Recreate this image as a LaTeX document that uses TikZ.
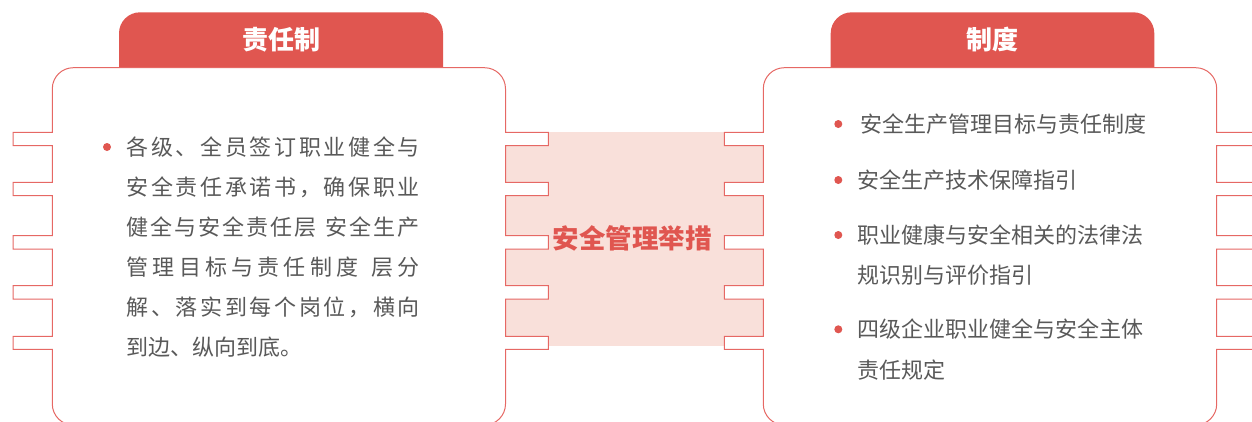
\documentclass[tikz,border=0pt]{standalone}
\usepackage{fontspec}
\setmainfont{Noto Sans CJK SC}
\definecolor{hdr}{RGB}{224,86,80}
\definecolor{edgered}{RGB}{230,104,100}
\definecolor{pinkfill}{RGB}{249,224,218}
\definecolor{txtgray}{RGB}{89,89,89}
\makeatletter
\def\spr#1{\spr@#1\@nil}
\def\spr@#1#2\@nil{#1\ifx\relax#2\relax\else\hfill\spr@#2\@nil\fi}
\makeatother
\newcommand\cardoutline[6]{% L, R, T, B, left tab x, right tab x
  \draw[cardedge] (#1,#3+21) arc[start angle=180,end angle=270,radius=21]
    -- (#2-21,#3) arc[start angle=270,end angle=360,radius=21]
    \foreach \a/\b in {132.3/145.7,182.3/195.7,235.7/249,285.7/299,336.3/349.3}
      { -- (#2,\a) -- (#6,\a) -- (#6,\b) -- (#2,\b) }
    -- (#2,#4-21) arc[start angle=0,end angle=90,radius=21]
    -- (#1+21,#4) arc[start angle=90,end angle=180,radius=21]
    \foreach \a/\b in {349.3/336.3,299/285.7,249/235.7,195.7/182.3,145.7/132.3}
      { -- (#1,\a) -- (#5,\a) -- (#5,\b) -- (#1,\b) }
    -- cycle;}
\begin{document}
\begin{tikzpicture}[x=1pt,y=-1pt,
  cardedge/.style={draw=edgered,fill=white,line width=1pt,line join=miter},
  bul/.style={circle,fill=hdr,inner sep=0pt,minimum size=8pt},
  bodytxt/.style={font=\fontsize{22pt}{26pt}\selectfont,text=txtgray,inner sep=0pt,anchor=base west},
  hdrtxt/.style={font=\bfseries\fontsize{26pt}{30pt}\selectfont,text=white,inner sep=0pt,anchor=base},
  midtxt/.style={font=\bfseries\fontsize{26.5pt}{30pt}\selectfont,text=hdr,inner sep=0pt,anchor=base}]
\useasboundingbox (0,0) rectangle (1252,421);
\clip (0,0) rectangle (1252,421);
% middle pink band
\fill[pinkfill] (505.5,132) rectangle (763.3,346);
% headers
\fill[hdr] (119,67.7) -- (119,33.3) arc[start angle=180,end angle=270,radius=21]
  -- (422,12.3) arc[start angle=270,end angle=360,radius=21] -- (443,67.7) -- cycle;
\fill[hdr] (830.7,67.7) -- (830.7,33.3) arc[start angle=180,end angle=270,radius=21]
  -- (1133.3,12.3) arc[start angle=270,end angle=360,radius=21] -- (1154.3,67.7) -- cycle;
% cards
\cardoutline{52.3}{505.5}{67.7}{425}{13.2}{548.3}
\cardoutline{763.3}{1216.7}{67.7}{425}{724.3}{1262}
% header texts
\node[hdrtxt] (h1) at (281,49.9) {责任制};
\node[hdrtxt] (h2) at (992.5,49.9) {制度};
% middle text
\node[midtxt] (mid) at (632.2,248.4) {安全管理举措};
% left card text
\node[bul] (lb) at (107,147) {};
\node[bodytxt] (l1) at (126.5,155.1) {\makebox[293pt][l]{\spr{各级、全员签订职业健全与}}};
\node[bodytxt] (l2) at (126.5,195.1) {\makebox[293pt][l]{\spr{安全责任承诺书，确保职业}}};
\node[bodytxt] (l3) at (126.5,235.1) {\makebox[293pt][l]{\spr{健全与安全责任层~安全生产}}};
\node[bodytxt] (l4) at (126.5,275.1) {\makebox[293pt][l]{\spr{管理目标与责任制度~层分}}};
\node[bodytxt] (l5) at (126.5,315.1) {\makebox[293pt][l]{\spr{解、落实到每个岗位，横向}}};
\node[bodytxt] (l6) at (126.5,355.1) {到边、纵向到底。};
% right card text
\node[bul] (rb1) at (838.3,124) {};
\node[bodytxt] (r1) at (860.5,132.4) {安全生产管理目标与责任制度};
\node[bul] (rb2) at (838.3,180) {};
\node[bodytxt] (r2) at (857,188.4) {安全生产技术保障指引};
\node[bul] (rb3) at (838.3,235) {};
\node[bodytxt] (r3) at (857,243.4) {职业健康与安全相关的法律法};
\node[bodytxt] (r3b) at (857,283.4) {规识别与评价指引};
\node[bul] (rb4) at (838.3,329.3) {};
\node[bodytxt] (r4) at (857,337.7) {四级企业职业健全与安全主体};
\node[bodytxt] (r4b) at (857,378.4) {责任规定};
\end{tikzpicture}
\end{document}
